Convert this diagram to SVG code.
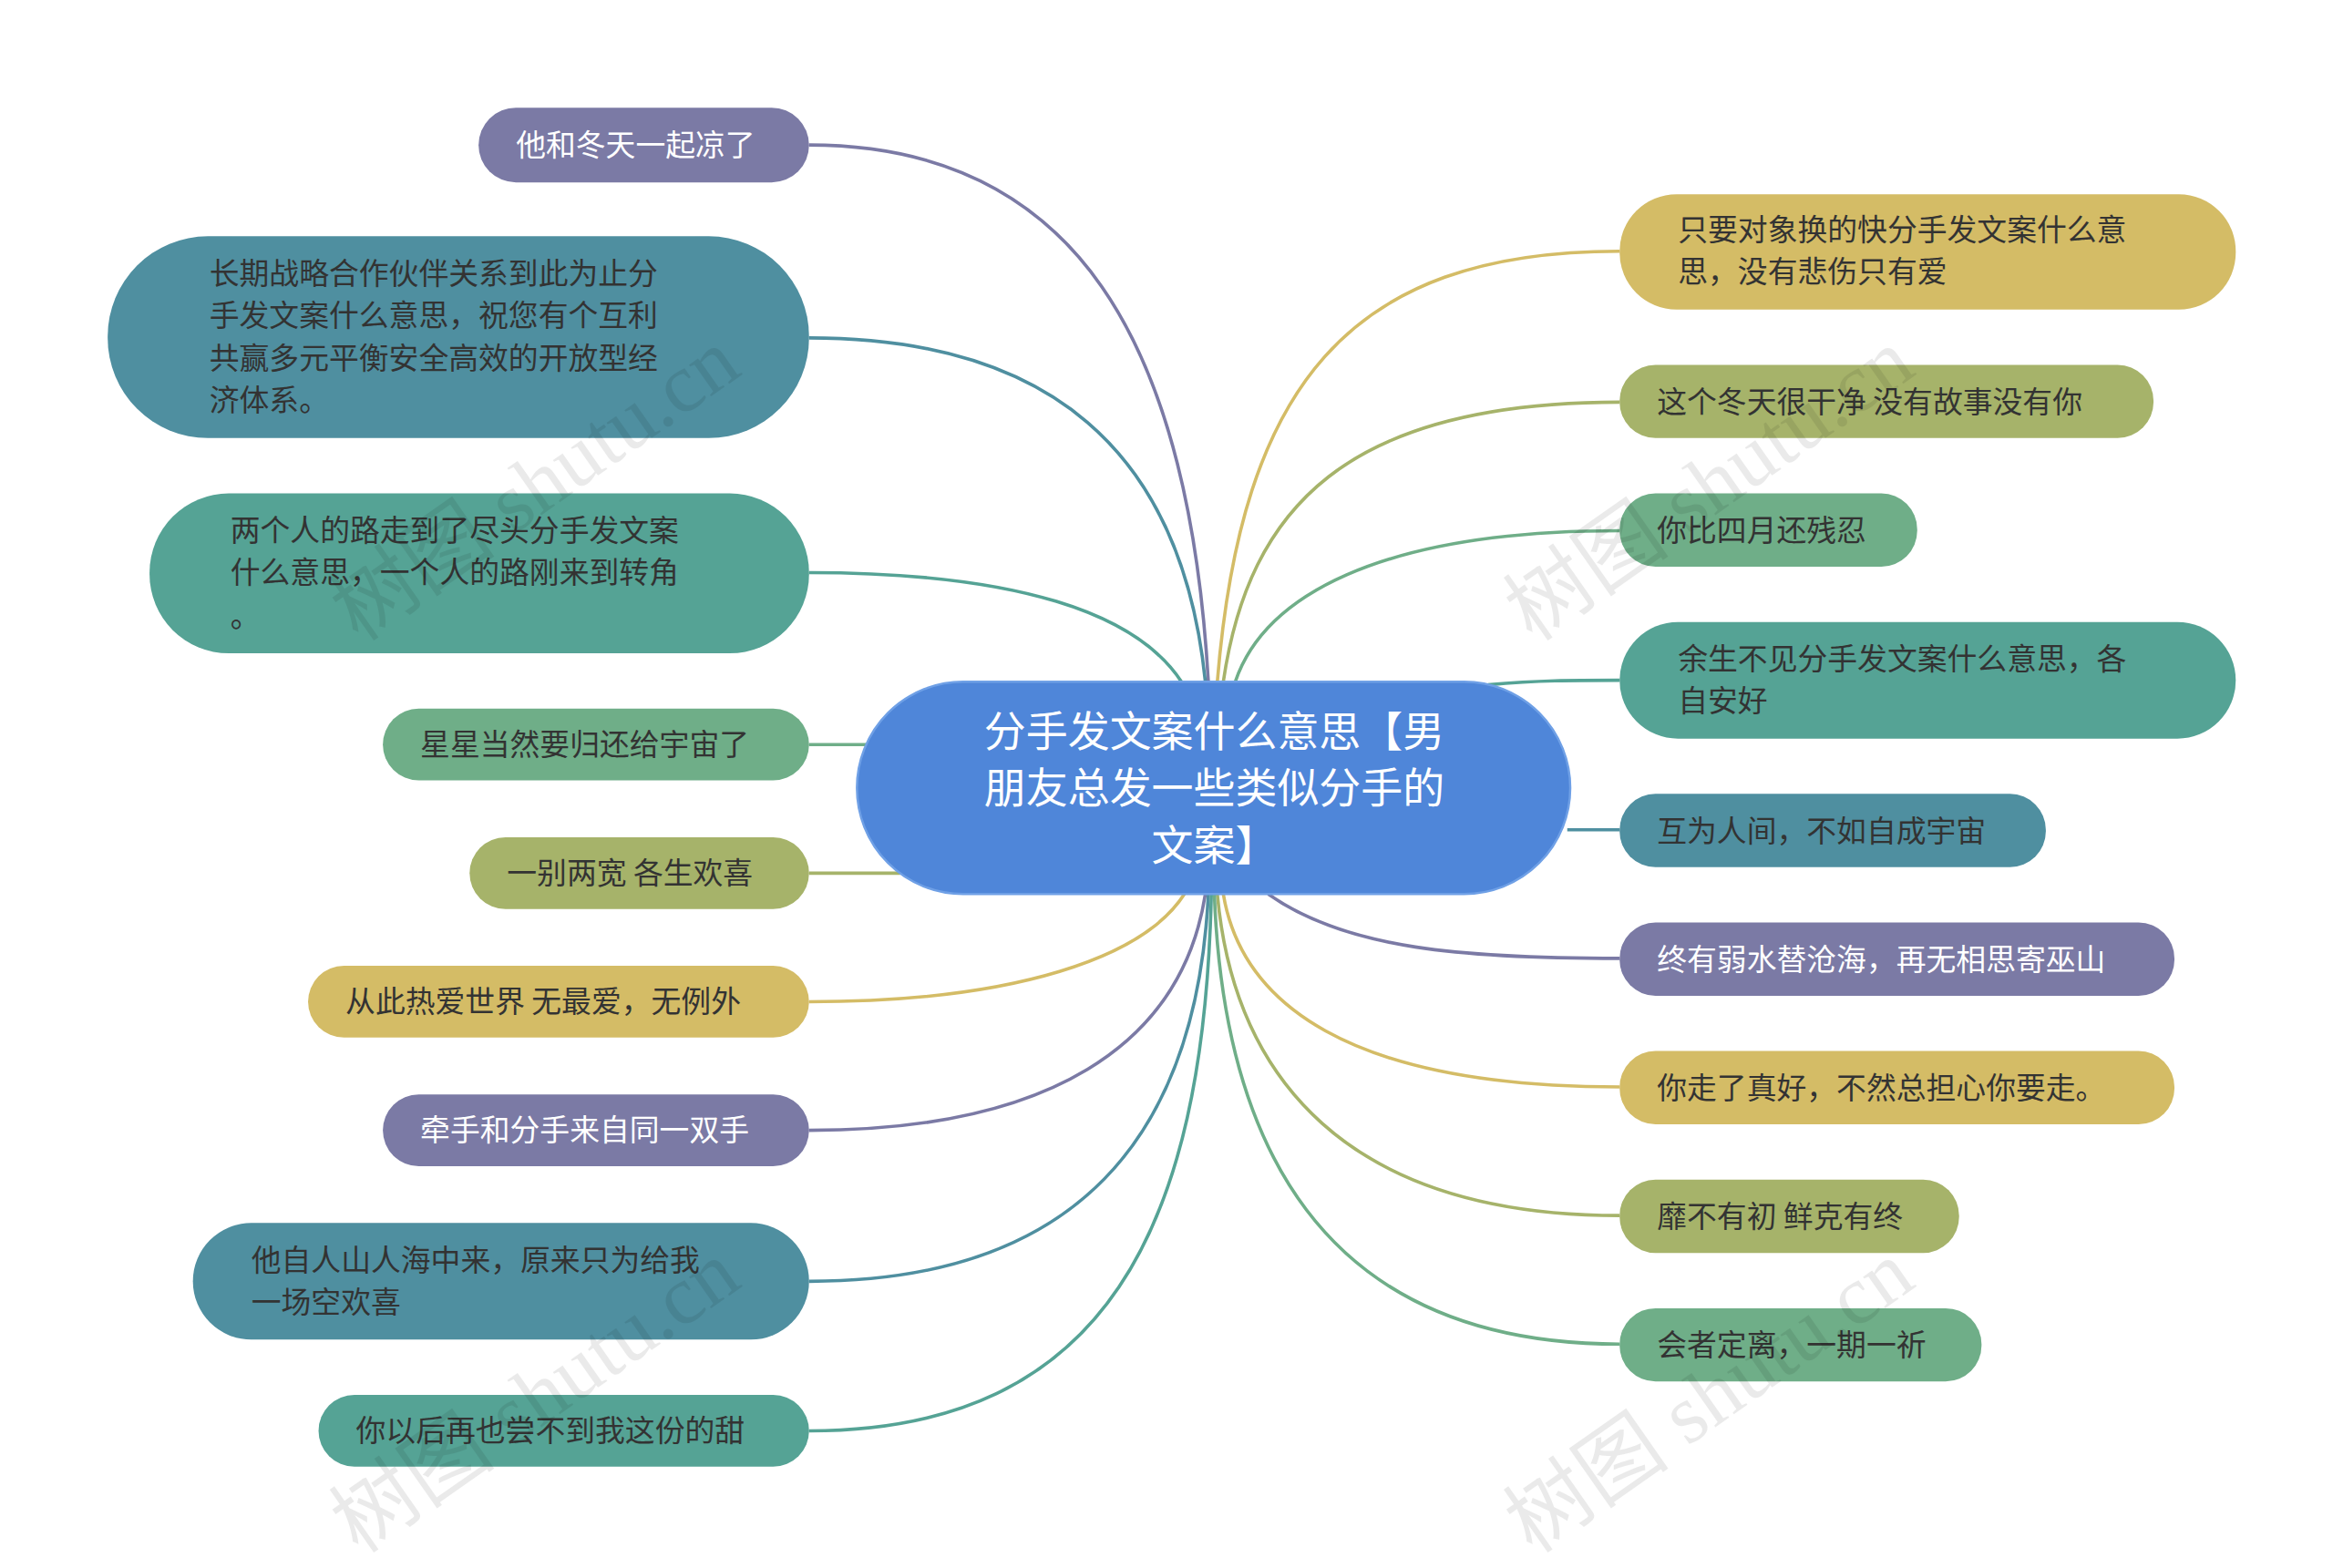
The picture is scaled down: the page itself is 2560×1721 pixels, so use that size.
<svg xmlns="http://www.w3.org/2000/svg" width="2560" height="1721" viewBox="0 0 2560 1721">
<style>
text{font-family:"Noto Sans CJK SC","Noto Sans",sans-serif;font-size:20px;fill:#333}
.w{fill:#fff}
.c{fill:#fff;font-size:28px}
.wm{font-family:"Liberation Serif","Noto Sans CJK SC",serif;font-size:56px;fill:#000;opacity:0.08}
#links path{fill:none;stroke-width:2.2}
.pu{fill:#7b7aa5}.tb{fill:#4f8fa0}.tg{fill:#55a395}.gr{fill:#6fae88}.ol{fill:#a6b36a}.ye{fill:#d4bc66}
</style>
<rect width="2560" height="1721" fill="#fff"/>
<g transform="scale(1.641)">
<g id="links">
<path d="M541,97 C720,97 795,230 808,456" stroke="#7b7aa5"/>
<path d="M541,226 C700,226 790,300 806,456" stroke="#4f8fa0"/>
<path d="M541,383 C680,383 760,410 790,456" stroke="#55a395"/>
<path d="M541,498 L580,498" stroke="#6fae88"/>
<path d="M541,584 L602,584" stroke="#a6b36a"/>
<path d="M541,670 C680,670 765,640 792,598" stroke="#d4bc66"/>
<path d="M541,756 C700,756 790,700 806,598" stroke="#7b7aa5"/>
<path d="M541,857 C720,857 800,760 808,598" stroke="#4f8fa0"/>
<path d="M541,957 C740,957 805,820 810,598" stroke="#55a395"/>
<path d="M1083,168 C900,168 830,260 814,456" stroke="#d4bc66"/>
<path d="M1083,269 C900,269 835,340 818,456" stroke="#a6b36a"/>
<path d="M1083,355 C920,355 845,400 826,456" stroke="#6fae88"/>
<path d="M995,458 C1030,455 1050,455 1083,455" stroke="#55a395"/>
<path d="M1048,555 L1083,555" stroke="#4f8fa0"/>
<path d="M848,598 C900,635 980,641 1083,641" stroke="#7b7aa5"/>
<path d="M1083,727 C900,727 830,670 818,598" stroke="#d4bc66"/>
<path d="M1083,813 C900,813 825,720 814,598" stroke="#a6b36a"/>
<path d="M1083,899 C880,899 818,760 812,598" stroke="#6fae88"/>
</g>
<g id="center"><rect x="573" y="456" width="477" height="142" rx="71" fill="#4f86d9" stroke="#6fa0e6" stroke-width="1.5"/>
<text class="c" text-anchor="middle" x="812" y="499">分手发文案什么意思【男</text>
<text class="c" text-anchor="middle" x="812" y="537">朋友总发一些类似分手的</text>
<text class="c" text-anchor="middle" x="812" y="575">文案】</text></g>
<g id="l1"><rect class="pu" x="320" y="72" width="221" height="50" rx="25"/><text class="w" x="345" y="104">他和冬天一起凉了</text></g>
<g id="l2"><rect class="tb" x="72" y="158" width="469" height="135" rx="67"/>
<text x="140" y="190">长期战略合作伙伴关系到此为止分</text><text x="140" y="218">手发文案什么意思，祝您有个互利</text><text x="140" y="247">共赢多元平衡安全高效的开放型经</text><text x="140" y="275">济体系。</text></g>
<g id="l3"><rect class="tg" x="100" y="330" width="441" height="107" rx="53"/>
<text x="154" y="362">两个人的路走到了尽头分手发文案</text><text x="154" y="390">什么意思，一个人的路刚来到转角</text><text x="154" y="419">。</text></g>
<g id="l4"><rect class="gr" x="256" y="474" width="285" height="48" rx="24"/><text x="281" y="505">星星当然要归还给宇宙了</text></g>
<g id="l5"><rect class="ol" x="314" y="560" width="227" height="48" rx="24"/><text x="339" y="591">一别两宽 各生欢喜</text></g>
<g id="l6"><rect class="ye" x="206" y="646" width="335" height="48" rx="24"/><text x="231" y="677">从此热爱世界 无最爱，无例外</text></g>
<g id="l7"><rect class="pu" x="256" y="732" width="285" height="48" rx="24"/><text class="w" x="281" y="763">牵手和分手来自同一双手</text></g>
<g id="l8"><rect class="tb" x="129" y="818" width="412" height="78" rx="39"/><text x="168" y="850">他自人山人海中来，原来只为给我</text><text x="168" y="878">一场空欢喜</text></g>
<g id="l9"><rect class="tg" x="213" y="933" width="328" height="48" rx="24"/><text x="238" y="964">你以后再也尝不到我这份的甜</text></g>
<g id="r1"><rect class="ye" x="1083" y="130" width="412" height="77" rx="38"/><text x="1122" y="161">只要对象换的快分手发文案什么意</text><text x="1122" y="189">思，没有悲伤只有爱</text></g>
<g id="r2"><rect class="ol" x="1083" y="244" width="357" height="49" rx="24"/><text x="1108" y="276">这个冬天很干净 没有故事没有你</text></g>
<g id="r3"><rect class="gr" x="1083" y="330" width="199" height="49" rx="24"/><text x="1108" y="362">你比四月还残忍</text></g>
<g id="r4"><rect class="tg" x="1083" y="416" width="412" height="78" rx="39"/><text x="1122" y="448">余生不见分手发文案什么意思，各</text><text x="1122" y="476">自安好</text></g>
<g id="r5"><rect class="tb" x="1083" y="531" width="285" height="49" rx="24"/><text x="1108" y="563">互为人间，不如自成宇宙</text></g>
<g id="r6"><rect class="pu" x="1083" y="617" width="371" height="49" rx="24"/><text class="w" x="1108" y="649">终有弱水替沧海，再无相思寄巫山</text></g>
<g id="r7"><rect class="ye" x="1083" y="703" width="371" height="49" rx="24"/><text x="1108" y="735">你走了真好，不然总担心你要走。</text></g>
<g id="r8"><rect class="ol" x="1083" y="789" width="227" height="49" rx="24"/><text x="1108" y="821">靡不有初 鲜克有终</text></g>
<g id="r9"><rect class="gr" x="1083" y="875" width="242" height="49" rx="24"/><text x="1108" y="907">会者定离，一期一祈</text></g>
<g id="watermark">
<text class="wm" transform="translate(240,430) rotate(-35)">树图 shutu.cn</text>
<text class="wm" transform="translate(1025,430) rotate(-35)">树图 shutu.cn</text>
<text class="wm" transform="translate(240,1040) rotate(-35)">树图 shutu.cn</text>
<text class="wm" transform="translate(1025,1040) rotate(-35)">树图 shutu.cn</text>
</g>
</g>
</svg>
